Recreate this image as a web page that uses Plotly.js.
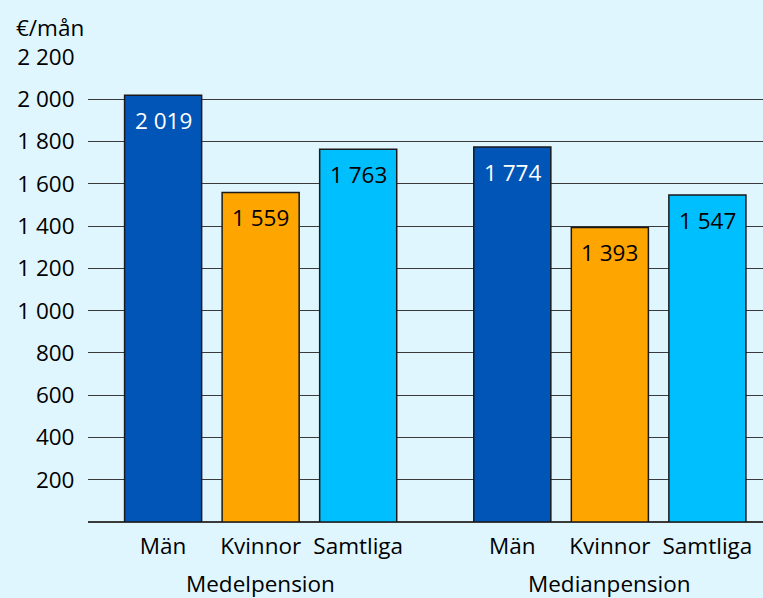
<!DOCTYPE html>
<html><head><meta charset="utf-8">
<script src="https://cdn.plot.ly/plotly-3.0.1.min.js"></script>
<style>html,body{margin:0;padding:0;background:#DFF6FE;}</style>
</head><body>
<div id="chart" style="width:763px;height:598px;"></div>
<script>
var groups = ["Medelpension", "Medianpension"];
var categories = ["Män", "Kvinnor", "Samtliga"];
var medelValues = [2019, 1559, 1763];
var medianValues = [1774, 1393, 1547];
var yTickVals = [200, 400, 600, 800, 1000, 1200, 1400, 1600, 1800, 2000, 2200];
var yTickText = ["200", "400", "600", "800", "1 000", "1 200", "1 400", "1 600", "1 800", "2 000", "2 200"];
var unitLabel = "€/mån";

var barColors = ["#0055B7", "#FFA500", "#00BFFF"];
var textColors = ["#FFFFFF", "#000000", "#000000"];
var groupGap = 1.58;
var FONT = "'Open Sans', sans-serif";
var FS = 22.5;

function fmt(v){ return String(v).replace(/\B(?=(\d{3})+(?!\d))/g, " "); }

var seriesByGroup = [medelValues, medianValues];
var xs = [], ys = [], cols = [], labels = [];
var annotations = [];
seriesByGroup.forEach(function(vals, g){
  vals.forEach(function(v, i){
    var x = g * (categories.length - 1 + groupGap) + i;
    xs.push(x); ys.push(v); cols.push(barColors[i]); labels.push(categories[i]);
    annotations.push({x: x, y: v, xref: 'x', yref: 'y', text: fmt(v), showarrow: false,
      yanchor: 'middle', yshift: -25, font: {family: FONT, size: FS, color: textColors[i]}});
  });
  var mid = g * (categories.length - 1 + groupGap) + (categories.length - 1) / 2;
  annotations.push({x: mid, y: 0, xref: 'x', yref: 'y', text: groups[g], showarrow: false,
    yanchor: 'middle', yshift: -61, font: {family: FONT, size: FS, color: '#000'}});
});
annotations.push({x: (14 - 88) / 675, y: (522 - 27) / 465, xref: 'paper', yref: 'paper',
  xanchor: 'left', yanchor: 'middle',
  text: unitLabel, showarrow: false, font: {family: FONT, size: FS, color: '#000'}});

var trace = {type: 'bar', x: xs, y: ys, width: 0.79,
  marker: {color: cols, line: {color: '#1a1a1a', width: 1.5}},
  hoverinfo: 'skip'};

var layout = {
  width: 763, height: 598,
  paper_bgcolor: '#DFF6FE', plot_bgcolor: '#DFF6FE',
  margin: {l: 88, r: 0, t: 57, b: 76},
  showlegend: false,
  font: {family: FONT, size: FS, color: '#000'},
  xaxis: {range: [-0.77, 6.15], tickvals: xs, ticktext: labels, showgrid: false, zeroline: false,
    showline: false, ticks: 'outside', ticklen: 4, tickcolor: 'rgba(0,0,0,0)', fixedrange: true,
    tickfont: {family: FONT, size: FS, color: '#000'}},
  yaxis: {range: [0, 2200], tickvals: yTickVals, ticktext: yTickText, showgrid: true,
    gridcolor: '#3a3a3a', gridwidth: 1, zeroline: true, zerolinecolor: '#3a3a3a', zerolinewidth: 1.5,
    ticks: 'outside', ticklen: 8, tickcolor: 'rgba(0,0,0,0)', showline: false, fixedrange: true,
    tickfont: {family: FONT, size: FS, color: '#000'}},
  annotations: annotations
};
Plotly.newPlot('chart', [trace], layout, {displayModeBar: false, staticPlot: true});
</script>
</body></html>
